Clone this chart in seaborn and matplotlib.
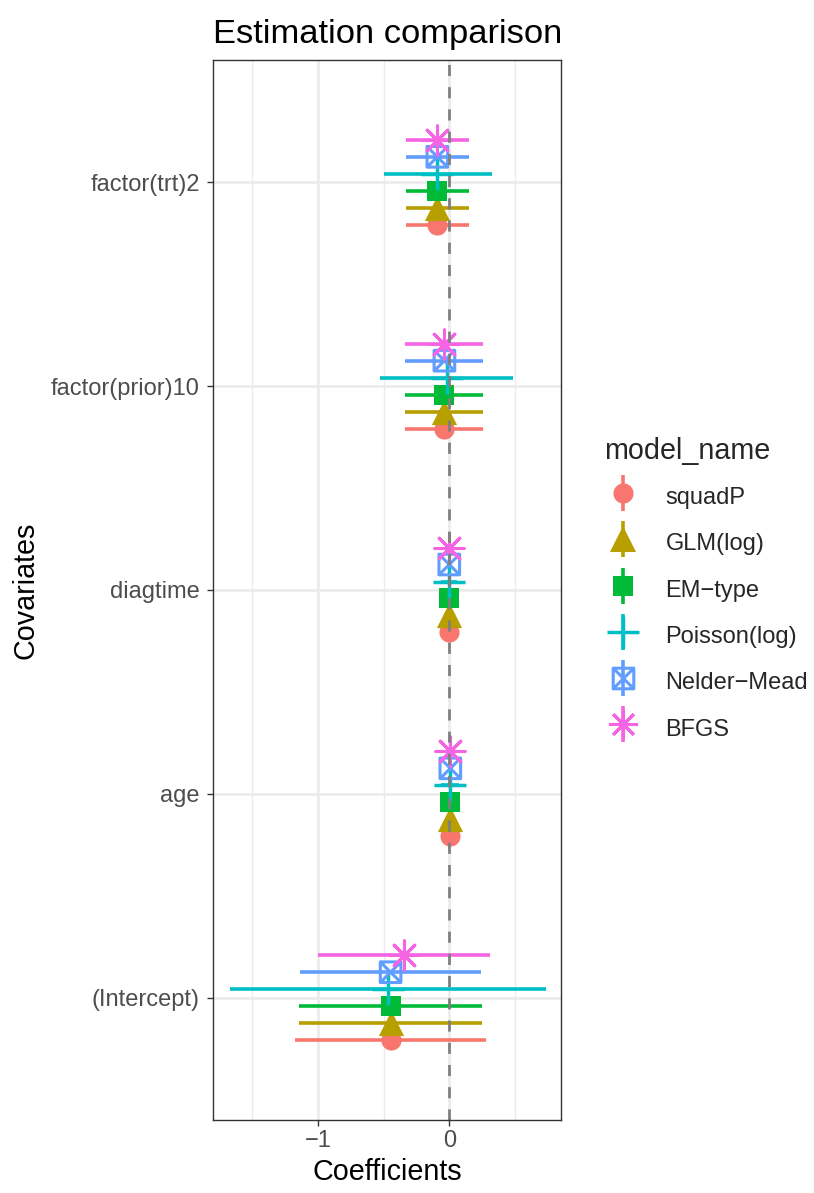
import numpy as np
import pandas as pd
import matplotlib
matplotlib.use("Agg")
import matplotlib.pyplot as plt
import seaborn as sns
from matplotlib.path import Path
from matplotlib.lines import Line2D
from matplotlib.legend_handler import HandlerTuple

# ---------------- data ----------------
covariates = ["(Intercept)", "age", "diagtime", "factor(prior)10", "factor(trt)2"]
models = ["squadP", "GLM(log)", "EM\u2212type", "Poisson(log)", "Nelder\u2212Mead", "BFGS"]
colors = ["#F8766D", "#B79F00", "#00BA38", "#00BFC4", "#619CFF", "#F564E3"]

est_squadP = [-0.447, 0.008, 0.000, -0.037, -0.091]
lo_squadP = [-1.178, -0.010, -0.012, -0.335, -0.330]
hi_squadP = [0.283, 0.026, 0.012, 0.260, 0.148]

est_glm = [-0.447, 0.008, 0.000, -0.037, -0.091]
lo_glm = [-1.147, -0.010, -0.012, -0.335, -0.330]
hi_glm = [0.252, 0.026, 0.012, 0.260, 0.148]

est_em = [-0.447, 0.008, 0.000, -0.037, -0.091]
lo_em = [-1.147, -0.010, -0.012, -0.335, -0.330]
hi_em = [0.252, 0.026, 0.012, 0.260, 0.148]

est_poisson = [-0.465, 0.008, 0.000, -0.020, -0.090]
lo_poisson = [-1.669, -0.060, -0.060, -0.529, -0.500]
hi_poisson = [0.740, 0.075, 0.060, 0.489, 0.324]

est_nm = [-0.447, 0.008, 0.000, -0.037, -0.091]
lo_nm = [-1.134, -0.010, -0.012, -0.335, -0.330]
hi_nm = [0.240, 0.026, 0.012, 0.260, 0.148]

est_bfgs = [-0.347, 0.008, 0.000, -0.037, -0.091]
lo_bfgs = [-1.000, -0.010, -0.012, -0.335, -0.330]
hi_bfgs = [0.310, 0.026, 0.012, 0.260, 0.148]

estimates = [est_squadP, est_glm, est_em, est_poisson, est_nm, est_bfgs]
lowers = [lo_squadP, lo_glm, lo_em, lo_poisson, lo_nm, lo_bfgs]
uppers = [hi_squadP, hi_glm, hi_em, hi_poisson, hi_nm, hi_bfgs]

rows = []
for mi, m in enumerate(models):
    for ci, c in enumerate(covariates):
        rows.append(dict(model=m, covariate=c, estimate=estimates[mi][ci],
                         lower=lowers[mi][ci], upper=uppers[mi][ci]))
df = pd.DataFrame(rows)

# dodge (position_dodge width 0.5)
n_models = len(models)
dodge_w = 0.5
df["ypos"] = [covariates.index(c) + (models.index(m) - (n_models - 1) / 2) * dodge_w / n_models
              for m, c in zip(df["model"], df["covariate"])]

# ---------------- style ----------------
sns.set_style("white")
plt.rcParams["font.family"] = ["Liberation Sans", "DejaVu Sans"]
plt.rcParams["axes.unicode_minus"] = True

# custom "square with cross" marker
sq_verts = [(-1, -1), (1, -1), (1, 1), (-1, 1), (-1, -1),
            (-1, -1), (1, 1), (-1, 1), (1, -1)]
sq_codes = [Path.MOVETO, Path.LINETO, Path.LINETO, Path.LINETO, Path.CLOSEPOLY,
            Path.MOVETO, Path.LINETO, Path.MOVETO, Path.LINETO]
square_cross = Path(sq_verts, sq_codes)

marker_spec = {
    "squadP": dict(marker="o", s=210, kind="filled", lw=0),
    "GLM(log)": dict(marker="^", s=330, kind="filled", lw=0),
    "EM\u2212type": dict(marker="s", s=215, kind="filled", lw=0),
    "Poisson(log)": dict(marker="+", s=560, kind="line", lw=2.5),
    "Nelder\u2212Mead": dict(marker=square_cross, s=220, kind="open", lw=2.2),
    "BFGS": dict(marker=(8, 2, 0), s=440, kind="line", lw=2.2),
}

fig = plt.figure(figsize=(8.14, 11.93), dpi=100)
ax = fig.add_axes([0.2617, 0.0612, 0.4281, 0.8885])

# grid
for v in [-1.5, -0.5, 0.5]:
    ax.axvline(v, color="#EBEBEB", lw=1.0, zorder=0)
for v in [-1, 0]:
    ax.axvline(v, color="#EBEBEB", lw=1.9, zorder=0)
for i in range(len(covariates)):
    ax.axhline(i, color="#EBEBEB", lw=1.9, zorder=0)

# error bars
for mi, m in enumerate(models):
    sub = df[df["model"] == m]
    ax.hlines(sub["ypos"], sub["lower"], sub["upper"], color=colors[mi], lw=2.6, zorder=2)

# points
for mi, m in enumerate(models):
    sub = df[df["model"] == m]
    spec = marker_spec[m]
    if spec["kind"] == "filled":
        sns.scatterplot(data=sub, x="estimate", y="ypos", marker=spec["marker"], s=spec["s"],
                        color=colors[mi], linewidth=0, ax=ax, legend=False, zorder=3)
    elif spec["kind"] == "line":
        sns.scatterplot(data=sub, x="estimate", y="ypos", marker=spec["marker"], s=spec["s"],
                        color=colors[mi], linewidth=spec["lw"], ax=ax, legend=False, zorder=3)
    else:
        ax.scatter(sub["estimate"], sub["ypos"], marker=spec["marker"], s=spec["s"],
                   facecolors="none", edgecolors=colors[mi], linewidths=spec["lw"], zorder=3)

ax.axvline(0, color="#7F7F7F", lw=2.0, linestyle=(0, (4, 4)), zorder=4)

ax.set_xlim(-1.80, 0.855)
ax.set_ylim(-0.6, 4.6)
ax.set_xticks([-1, 0])
ax.set_xticklabels(["\u22121", "0"])
ax.set_yticks(range(len(covariates)))
ax.set_yticklabels(covariates)

ax.tick_params(axis="both", length=4.5, width=1.0, color="#333333", labelcolor="#4D4D4D",
               labelsize=17.0, pad=3, bottom=True, left=True)
ax.tick_params(axis="y", pad=5)
for sp in ax.spines.values():
    sp.set_color("#333333")
    sp.set_linewidth(1.0)
    sp.set_zorder(5)

ax.set_xlabel("Coefficients", fontsize=20.7, color="black", labelpad=4)
ax.set_ylabel("Covariates", fontsize=20.7, color="black", labelpad=8)
ax.set_title("Estimation comparison", fontsize=24.8, color="black", pad=12)

# legend
handles = []
for mi, m in enumerate(models):
    spec = marker_spec[m]
    bar = Line2D([], [], marker="|", color=colors[mi], markersize=26, mew=2.6, linestyle="none")
    ms = np.sqrt(spec["s"])
    if spec["kind"] == "filled":
        mk = Line2D([], [], marker=spec["marker"], color=colors[mi], markersize=ms,
                    markeredgewidth=0, linestyle="none")
    else:
        mk = Line2D([], [], marker=spec["marker"], color=colors[mi], markersize=ms,
                    markerfacecolor="none", markeredgecolor=colors[mi],
                    markeredgewidth=spec["lw"], linestyle="none")
    handles.append((bar, mk))

leg = fig.legend(handles, models, handler_map={tuple: HandlerTuple(ndivide=1, pad=0)},
                 loc="center left", bbox_to_anchor=(0.742, 0.506), frameon=False,
                 title="model_name", title_fontsize=20.7, fontsize=17.0,
                 handlelength=1.6, handleheight=1.5, labelspacing=0.74,
                 handletextpad=1.0, borderpad=0, borderaxespad=0, alignment="left")

fig.savefig("out.png", dpi=100)
